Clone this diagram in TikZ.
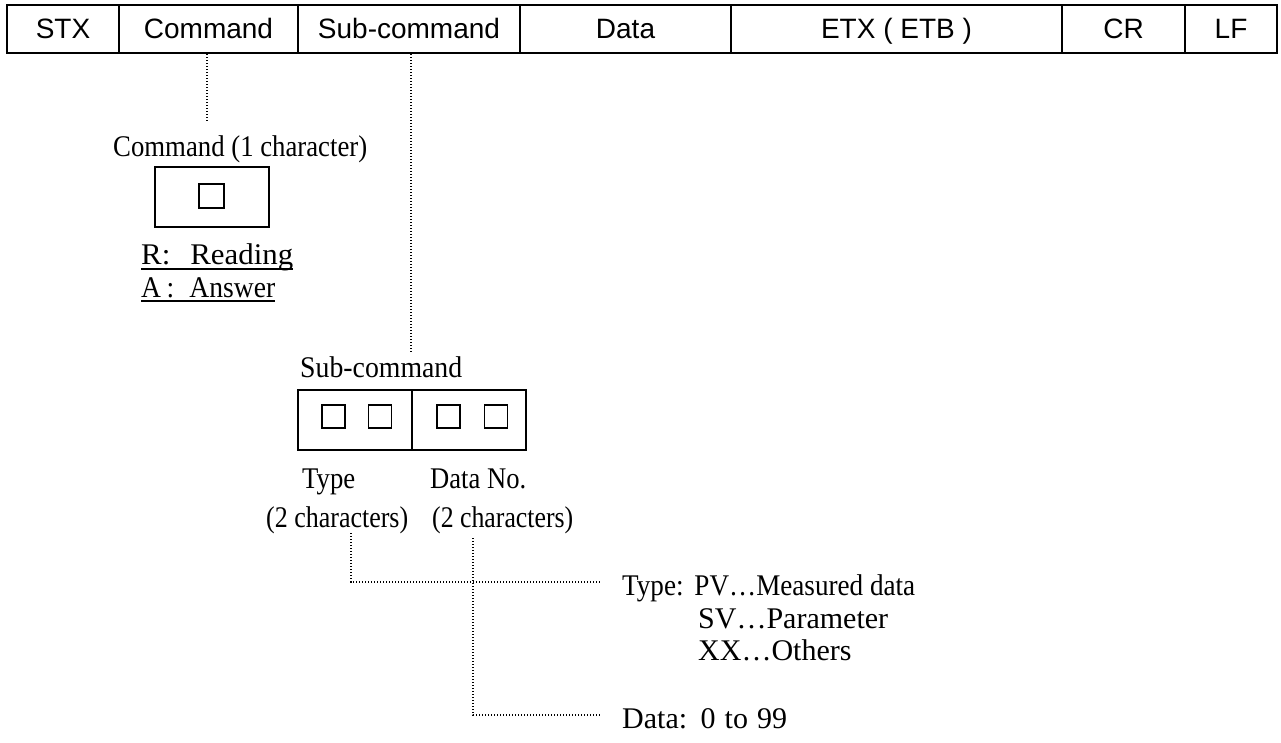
\documentclass[tikz,border=0pt]{standalone}
\usepackage{fontspec}
\setmainfont{Liberation Serif}
\newfontfamily\arialf{Liberation Sans}
\usepackage{graphicx}
\newcommand\fitw[2]{\resizebox{#1}{\height}{#2}}
\newcommand\serifsz{\fontsize{30}{34}\selectfont}
\begin{document}
\begin{tikzpicture}[x=1pt,y=-1pt,
  cell/.style={draw, line width=2.4pt, minimum height=48pt, inner sep=0pt,
    text height=20pt, text depth=0pt, font=\arialf\fontsize{28}{32}\selectfont},
  lbl/.style={inner sep=0pt, anchor=base west, font=\serifsz},
  box/.style={draw, line width=2pt, inner sep=0pt, minimum width=114pt, minimum height=60pt},
  sq/.style={draw, line width=1.8pt, inner sep=0pt, minimum width=23pt, minimum height=23pt},
  dotline/.style={line width=1.3pt, dash pattern=on 1.3pt off 1.7pt},
  uline/.style={line width=1.8pt}
]
\useasboundingbox (0,0) rectangle (1281,743);

% top frame
\node[cell, minimum width=112pt] (stx)  at (63,29)     {STX};
\node[cell, minimum width=179pt] (cmd)  at (208.5,29)  {Command};
\node[cell, minimum width=222pt] (sub)  at (409,29)    {Sub-command};
\node[cell, minimum width=211pt] (data) at (625.5,29)  {Data};
\node[cell, minimum width=331pt] (etx)  at (896.5,29)  {ETX ( ETB )};
\node[cell, minimum width=123pt] (cr)   at (1123.5,29) {CR};
\node[cell, minimum width=92pt]  (lf)   at (1231,29)   {LF};

% command
\node[lbl] (cmdlbl) at (113,157) {\fitw{254pt}{Command (1 character)}};
\node[box] (cmdbox) at (212,197) {};
\node[sq, minimum width=25pt, minimum height=24pt] (cmdsq) at (211.5,196) {};
\node[lbl] (rlbl) at (141,264) {\fitw{152pt}{R:\hspace{0.65em}Reading}};
\node[lbl] (albl) at (141,297) {\fitw{134pt}{A\hspace{0.2em}:\hspace{0.55em}Answer}};
\draw[uline] (141,269) -- (293,269);
\draw[uline] (141,301) -- (275,301);

\coordinate (cmdend) at (207,122);
\draw[dotline] (cmdend |- cmd.south) -- (cmdend);

% sub-command
\coordinate (subend) at (411,352);
\draw[dotline] (subend |- sub.south) -- (subend);
\node[lbl] (sublbl) at (300,377) {\fitw{162pt}{Sub-command}};
\node[box] (typebox) at (355,420) {};
\node[box] (nobox) at (469,420) {};
\node[sq] (sq1) at (333.5,416.5) {};
\node[sq] (sq2) at (380,416.5) {};
\node[sq] (sq3) at (448.5,416.5) {};
\node[sq] (sq4) at (496,416.5) {};

\node[lbl] (typelbl) at (302,488) {\fitw{53pt}{Type}};
\node[lbl] (nolbl) at (430,488) {\fitw{96pt}{Data No.}};
\node[lbl] (typech) at (266,527) {\fitw{142pt}{(2 characters)}};
\node[lbl] (noch) at (432,527) {\fitw{141pt}{(2 characters)}};

% explanations
\node[lbl] (typetxt) at (622,595) {\fitw{293pt}{Type:\hspace{0.4em}PV…Measured data}};
\node[lbl] (svtxt) at (698,628) {SV…Parameter};
\node[lbl] (xxtxt) at (698,660) {XX…Others};
\node[lbl] (datatxt) at (622,728) {Data:\hspace{0.45em}0\hspace{0.3em}to\hspace{0.3em}99};

\coordinate (typetop) at (351,533);
\coordinate (typeend) at (600,582);
\coordinate (datatop) at (473,538);
\coordinate (dataend) at (600,715);
\draw[dotline] (typetop) |- (typeend);
\draw[dotline] (datatop) |- (dataend);
\end{tikzpicture}
\end{document}
